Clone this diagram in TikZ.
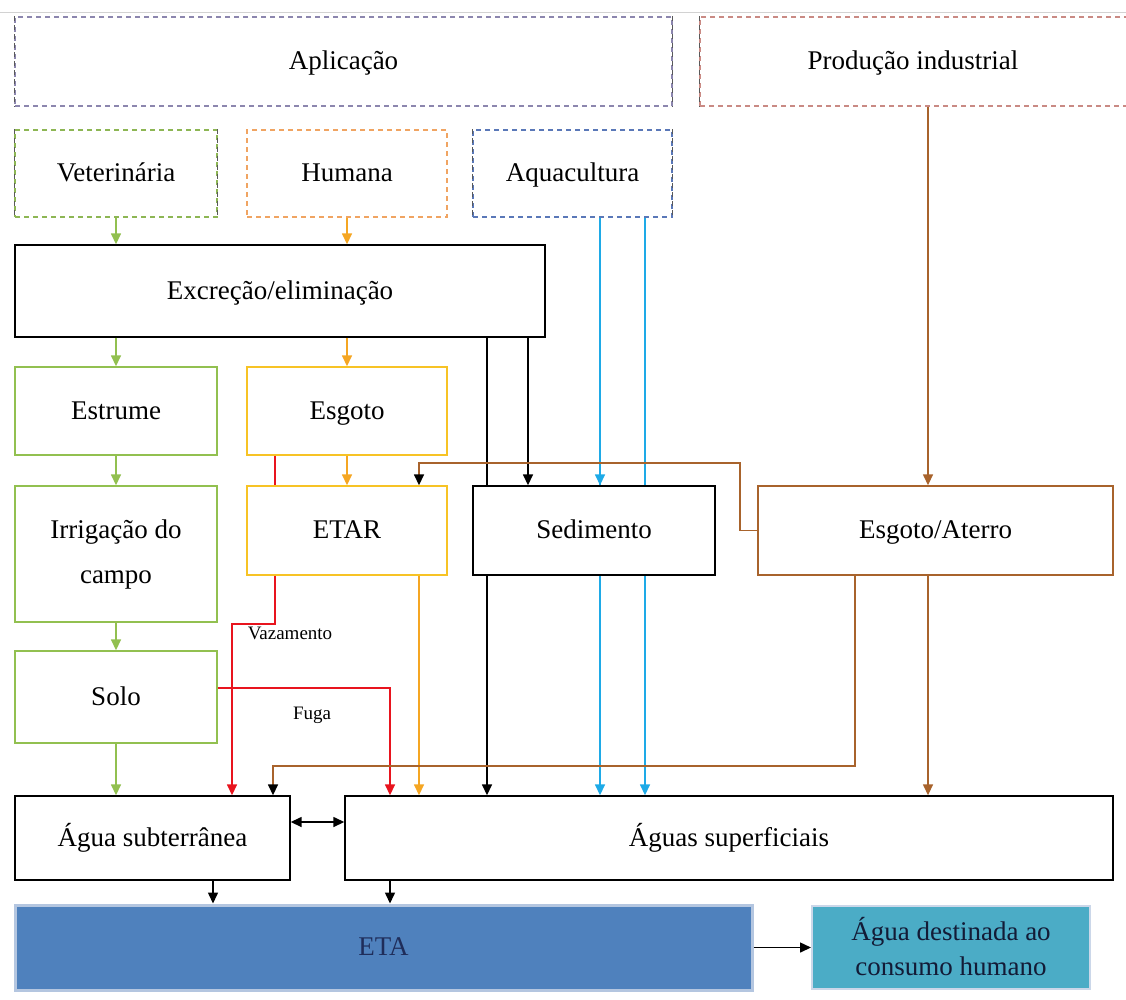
\documentclass[tikz,border=0pt]{standalone}
\usepackage{fontspec}
\setmainfont{Liberation Serif}
\usetikzlibrary{arrows.meta}
\pgfdeclarelayer{background}
\pgfsetlayers{background,main}
\definecolor{cgreen}{HTML}{92C050}
\definecolor{corange}{HTML}{F5A623}
\definecolor{cyellow}{HTML}{F7C325}
\definecolor{cred}{HTML}{E8141E}
\definecolor{cblue}{HTML}{1EAAE7}
\definecolor{cbrown}{HTML}{A8632C}
\definecolor{cpurp}{HTML}{8C86AE}
\definecolor{cpink}{HTML}{C98A84}
\definecolor{cdblue}{HTML}{5A78B8}
\definecolor{cdgreen}{HTML}{8DB654}
\definecolor{cdorange}{HTML}{F0A462}
\definecolor{etafill}{HTML}{4F81BD}
\definecolor{etaborder}{HTML}{B4C6E0}
\definecolor{destfill}{HTML}{4BACC6}
\definecolor{etatext}{HTML}{1F2D5A}
\begin{document}
\begin{tikzpicture}[x=1pt,y=-1pt,
  box/.style={draw, fill=white, line width=1.4pt, inner sep=0pt, align=center,
    font=\fontsize{27}{35}\selectfont},
  one/.style={text height=21pt, text depth=5pt},
  dbox/.style={draw, line width=1.3pt, dash pattern=on 5pt off 4pt, inner sep=0pt,
    align=center, font=\fontsize{27}{35}\selectfont, text height=21pt, text depth=5pt},
  dside/.style={draw=black!65, line width=1.3pt, dash pattern=on 5pt off 4pt},
  lbl/.style={inner sep=0pt, font=\fontsize{27}{35}\selectfont, text height=21pt, text depth=5pt},
  small/.style={inner sep=0pt, font=\fontsize{19}{22}\selectfont},
  tip/.style={-{Triangle[length=11pt,width=10pt]}},
  ktip/.style={-{Triangle[length=11pt,width=10pt,color=black]}},
  gl/.style={draw=cgreen, line width=1.5pt},
  ol/.style={draw=corange, line width=1.5pt},
  rl/.style={draw=cred, line width=1.5pt},
  kl/.style={draw=black, line width=1.5pt},
  bl/.style={draw=cblue, line width=1.5pt},
  nl/.style={draw=cbrown, line width=1.5pt}]
\useasboundingbox (0,0) rectangle (1126,999);
\draw[gray!35, line width=1pt] (0,12) -- (1126,12);

% dashed top boxes
\node[dbox, draw=cpurp, minimum width=657pt, minimum height=89pt] (apl) at (343.5,61.5) {Aplicação};
\draw[dside] (apl.north west) -- (apl.south west) (apl.north east) -- (apl.south east);
\node[dbox, draw=cpink, minimum width=440pt, minimum height=89pt] (prod) at (920,61.5) {};
\node[lbl] (prodl) at (913,61.5) {Produção industrial};
\draw[dside] (prod.north west) -- (prod.south west);
\node[dbox, draw=cdgreen, minimum width=202pt, minimum height=87pt] (vet) at (116,173.5) {Veterinária};
\draw[dside] (vet.north west) -- (vet.south west) (vet.north east) -- (vet.south east);
\node[dbox, draw=cdorange, minimum width=200pt, minimum height=87pt] (hum) at (347,173.5) {Humana};
\node[dbox, draw=cdblue, minimum width=199pt, minimum height=87pt] (aqua) at (572.5,173.5) {Aquacultura};
\draw[dside] (aqua.north west) -- (aqua.south west) (aqua.north east) -- (aqua.south east);

% solid boxes
\node[box, one, minimum width=530pt, minimum height=92pt] (exc) at (280,291) {Excreção/eliminação};
\node[box, one, draw=cgreen, minimum width=202pt, minimum height=88pt] (estr) at (116,411) {Estrume};
\node[box, one, draw=cyellow, minimum width=200pt, minimum height=88pt] (esg) at (347,411) {Esgoto};
\node[box, draw=cgreen, minimum width=202pt, minimum height=136pt, font=\fontsize{27}{45}\selectfont] (irr) at (116,554) {Irrigação do\\campo};
\node[box, one, draw=cyellow, minimum width=200pt, minimum height=89pt] (etar) at (347,530.5) {ETAR};
\node[box, one, minimum width=242pt, minimum height=89pt] (sed) at (594,530.5) {Sedimento};
\node[box, one, draw=cbrown, minimum width=355pt, minimum height=89pt] (ate) at (935.5,530.5) {Esgoto/Aterro};
\node[box, one, draw=cgreen, minimum width=202pt, minimum height=92pt] (solo) at (116,697) {Solo};
\node[box, one, minimum width=275pt, minimum height=84pt] (sub) at (152.5,838) {Água subterrânea};
\node[box, one, minimum width=768pt, minimum height=84pt] (sup) at (729,838) {Águas superficiais};
\node[box, one, draw=etaborder, fill=etafill, line width=3pt, text=etatext, minimum width=737pt, minimum height=85pt] (eta) at (383.5,947.5) {ETA};
\node[box, draw=etaborder!70, fill=destfill, line width=2pt, text=etatext!60!black, minimum width=278pt, minimum height=83pt, font=\fontsize{27}{35}\selectfont] (dest) at (951,947) {Água destinada ao\\consumo humano};

% lines passing behind Sedimento
\begin{pgfonlayer}{background}
\draw[kl,tip] (487,0 |- exc.south) -- (487,0 |- sup.north);
\draw[bl,tip] (600,0 |- aqua.south) -- (600,0 |- sup.north);
\draw[bl,tip] (645,0 |- aqua.south) -- (645,0 |- sup.north);
\end{pgfonlayer}

% green
\draw[gl,tip] (vet.south) -- (vet.south |- exc.north);
\draw[gl,tip] (vet.south |- exc.south) -- (estr.north);
\draw[gl,tip] (estr.south) -- (irr.north);
\draw[gl,tip] (irr.south) -- (solo.north);
\draw[gl,tip] (solo.south) -- (solo.south |- sub.north);
% orange
\draw[ol,tip] (hum.south) -- (hum.south |- exc.north);
\draw[ol,tip] (hum.south |- exc.south) -- (esg.north);
\draw[ol,tip] (esg.south) -- (etar.north);
\draw[ol,tip] (419,0 |- etar.south) -- (419,0 |- sup.north);
% red
\draw[rl] (275,0 |- esg.south) -- (275,0 |- etar.north);
\draw[rl,tip] (275,0 |- etar.south) -- (275,624) -- (232,624) -- (232,0 |- sub.north);
\node[small] (vaz) at (290,633) {Vazamento};
\draw[rl,tip] (solo.east |- 0,688) -- (390,688) -- (390,0 |- sup.north);
\node[small] (fuga) at (312,715) {Fuga};
% black from excretion to sediment
\draw[kl,tip] (528,0 |- exc.south) -- (528,0 |- sed.north);
% blue into sediment
\draw[bl,tip] (600,0 |- aqua.south) -- (600,0 |- sed.north);
% brown
\draw[nl,tip] (928,0 |- prod.south) -- (928,0 |- ate.north);
\draw[nl,tip] (928,0 |- ate.south) -- (928,0 |- sup.north);
\draw[nl,ktip] (855,0 |- ate.south) -- (855,766) -- (273,766) -- (273,0 |- sub.north);
\draw[nl,ktip] (ate.west) -- (740,0 |- ate.west) -- (740,463) -- (419,463) -- (419,0 |- etar.north);
% bottom
\draw[kl,{Triangle[length=11pt,width=10pt]}-{Triangle[length=11pt,width=10pt]}] (sub.east |- 0,822) -- (sup.west |- 0,822);
\draw[kl,tip] (213,0 |- sub.south) -- (213,0 |- eta.north);
\draw[kl,tip] (390,0 |- sup.south) -- (390,0 |- eta.north);
\draw[kl,tip] (eta.east) -- (eta.east -| dest.west);
\end{tikzpicture}
\end{document}
